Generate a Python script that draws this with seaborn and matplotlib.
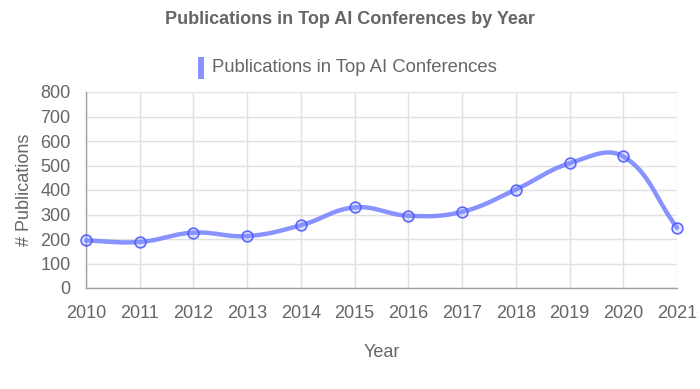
import numpy as np
import pandas as pd
import matplotlib
matplotlib.use("Agg")
import matplotlib.pyplot as plt
import seaborn as sns

years = [2010, 2011, 2012, 2013, 2014, 2015, 2016, 2017, 2018, 2019, 2020, 2021]
publications = [194, 188, 226, 212, 256, 329, 295, 311, 402, 509, 537, 246]
series_name = "Publications in Top AI Conferences"
title = "Publications in Top AI Conferences by Year"
yticks = [0, 100, 200, 300, 400, 500, 600, 700, 800]

sns.set_theme(style="white")
plt.rcParams['font.family'] = ['Liberation Sans', 'DejaVu Sans']

df = pd.DataFrame({"Year": years, "Publications": publications})

fig = plt.figure(figsize=(7.0, 3.89), dpi=100)
ax = fig.add_axes([86/700, 1 - 288/389, (677-86)/700, (288-92)/389])
ax.set_xlim(2010, 2021)
ax.set_ylim(0, 800)

line_color = (0.45, 0.50, 1.0, 0.85)

# Chart.js-style spline (tension 0.4) computed in display space
def spline_curve(xs, ys, t=0.4):
    pts = ax.transData.transform(np.column_stack([xs, ys]))
    n = len(pts)
    cps = []
    for i in range(n):
        cur = pts[i]
        prev = pts[i-1] if i > 0 else cur
        nxt = pts[i+1] if i < n-1 else cur
        d01 = np.hypot(*(cur - prev))
        d12 = np.hypot(*(nxt - cur))
        tot = d01 + d12
        s01 = d01 / tot if tot else 0
        s12 = d12 / tot if tot else 0
        cp_prev = cur - t * s01 * (nxt - prev)
        cp_next = cur + t * s12 * (nxt - prev)
        cps.append((cp_prev, cp_next))
    out = []
    tt = np.linspace(0, 1, 40)[:, None]
    for i in range(n - 1):
        p0 = pts[i]; p1 = cps[i][1]; p2 = cps[i+1][0]; p3 = pts[i+1]
        b = ((1-tt)**3)*p0 + 3*((1-tt)**2)*tt*p1 + 3*(1-tt)*tt**2*p2 + tt**3*p3
        out.append(b if i == 0 else b[1:])
    out = np.vstack(out)
    return ax.transData.inverted().transform(out)

curve = spline_curve(np.array(years, float), np.array(publications, float))
curve_df = pd.DataFrame({"x": curve[:, 0], "y": curve[:, 1]})
sns.lineplot(data=curve_df, x="x", y="y", ax=ax, color=line_color, linewidth=3.2,
             sort=False, estimator=None, zorder=3, clip_on=False)
sns.scatterplot(data=df, x="Year", y="Publications", ax=ax, s=60,
                facecolor=(0.55, 0.6, 1.0, 0.25), edgecolor=(0.3, 0.35, 1.0, 0.9),
                linewidth=1.2, zorder=4, clip_on=False)

ax.set_xticks(years)
ax.set_xticklabels([str(y) for y in years])
ax.set_yticks(yticks)
ax.set_yticklabels([str(v) for v in yticks])
ax.grid(True, color="#e0e0e0", linewidth=1)
ax.set_axisbelow(True)
ax.tick_params(axis="x", length=10, color="#e0e0e0", width=1, labelsize=13,
               labelcolor="#666666", pad=2)
ax.tick_params(axis="y", length=10, color="#e0e0e0", width=1, labelsize=13,
               labelcolor="#666666", pad=1)
for s in ["top", "right"]:
    ax.spines[s].set_visible(False)
for s in ["left", "bottom"]:
    ax.spines[s].set_color("#a0a0a0")
    ax.spines[s].set_linewidth(1)

ax.set_xlabel("Year", fontsize=13, color="#666666", labelpad=16)
ax.set_ylabel("# Publications", fontsize=13, color="#666666", labelpad=5)

fig.text(0.5, 1 - 19/389, title, ha="center", va="center", fontsize=13,
         fontweight="bold", color="#666666")

fig.patches.append(plt.Rectangle((198/700, 1 - 79/389), 6/700, 22/389,
                                 transform=fig.transFigure, facecolor=(0.45, 0.50, 1.0, 0.85),
                                 edgecolor="none"))
fig.text(212/700, 1 - 67/389, series_name, ha="left", va="center", fontsize=13.3,
         color="#666666")

fig.savefig("out.png", dpi=100)
